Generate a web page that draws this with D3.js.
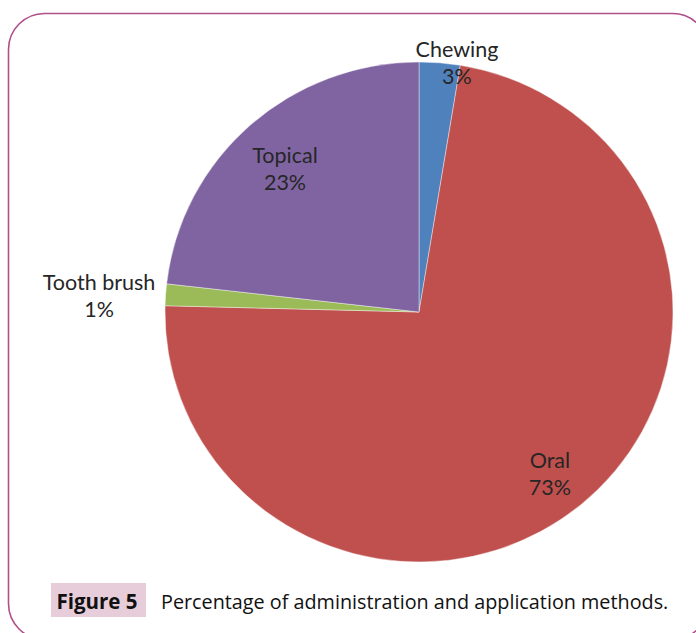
<!DOCTYPE html>
<html>
<head>
<meta charset="utf-8">
<script src="https://cdn.jsdelivr.net/npm/d3@7/dist/d3.min.js"></script>
<style>
  html, body { margin: 0; padding: 0; background: #fff; }
  svg { display: block; }
</style>
</head>
<body>
<svg id="chart" width="696" height="633"></svg>
<script>
// ---- data ----
const categories = ["Chewing", "Oral", "Tooth brush", "Topical"];
const values = [2.6, 72.8, 1.4, 23.2];
const percentLabels = ["3%", "73%", "1%", "23%"];
const colors = ["#4f81bd", "#c0504d", "#9bbb59", "#8064a2"];
const captionLabel = "Figure 5";
const captionText = "Percentage of administration and application methods.";

const data = categories.map((c, i) => ({ category: c, value: values[i], pct: percentLabels[i], color: colors[i] }));

const svg = d3.select("#chart");

// frame
svg.append("rect")
  .attr("x", 8.5).attr("y", 13.5)
  .attr("width", 700).attr("height", 626)
  .attr("rx", 36).attr("ry", 36)
  .attr("fill", "none")
  .attr("stroke", "#b04f88")
  .attr("stroke-width", 1.6);

// pie
const cx = 419, cy = 312, R = 250;
const pie = d3.pie().sort(null).value(d => d.value);
const arcs = pie(data);
const arc = d3.arc().innerRadius(0).outerRadius(R);

const g = svg.append("g").attr("transform", `translate(${cx},${cy}) scale(1.016,1)`);
g.selectAll("path.slice")
  .data(arcs)
  .enter().append("path")
  .attr("class", "slice")
  .attr("d", arc)
  .attr("fill", d => d.data.color)
  .attr("stroke", "#ffffff")
  .attr("stroke-width", 0.4);

// label placement (absolute angle in degrees clockwise from 12 o'clock, radius)
const labelPlacement = {
  "Chewing": { angle: 8.9, r: 245.4 },
  "Oral": { angle: 142.2, r: 213.5 },
  "Tooth brush": { angle: 271.7, r: 320.1 },
  "Topical": { angle: 315.5, r: 191.2 }
};

const lg = svg.append("g").attr("transform", `translate(${cx},${cy})`);
arcs.forEach(d => {
  const p = labelPlacement[d.data.category];
  const a = p.angle * Math.PI / 180;
  const x = Math.sin(a) * p.r;
  const y = -Math.cos(a) * p.r;
  const t = lg.append("text")
    .attr("x", x).attr("y", y)
    .attr("text-anchor", "middle")
    .attr("font-family", "Lato, 'Open Sans', sans-serif")
    .attr("font-size", 21.5)
    .attr("fill", "#262626");
  t.append("tspan").attr("x", x).attr("dy", "-0.59em").text(d.data.category);
  t.append("tspan").attr("x", x).attr("dy", "1.27em").text(d.data.pct);
});

// caption
svg.append("rect")
  .attr("x", 51).attr("y", 583)
  .attr("width", 95).attr("height", 34)
  .attr("fill", "#e6cdd9");
svg.append("text")
  .attr("x", 97).attr("y", 609)
  .attr("text-anchor", "middle")
  .attr("font-family", "'Open Sans', sans-serif")
  .attr("font-weight", "bold")
  .attr("font-size", 20.5)
  .attr("fill", "#111")
  .text(captionLabel);
svg.append("text")
  .attr("x", 161).attr("y", 609)
  .attr("font-family", "'Open Sans', sans-serif")
  .attr("font-size", 19.8)
  .attr("fill", "#111")
  .text(captionText);
</script>
</body>
</html>
